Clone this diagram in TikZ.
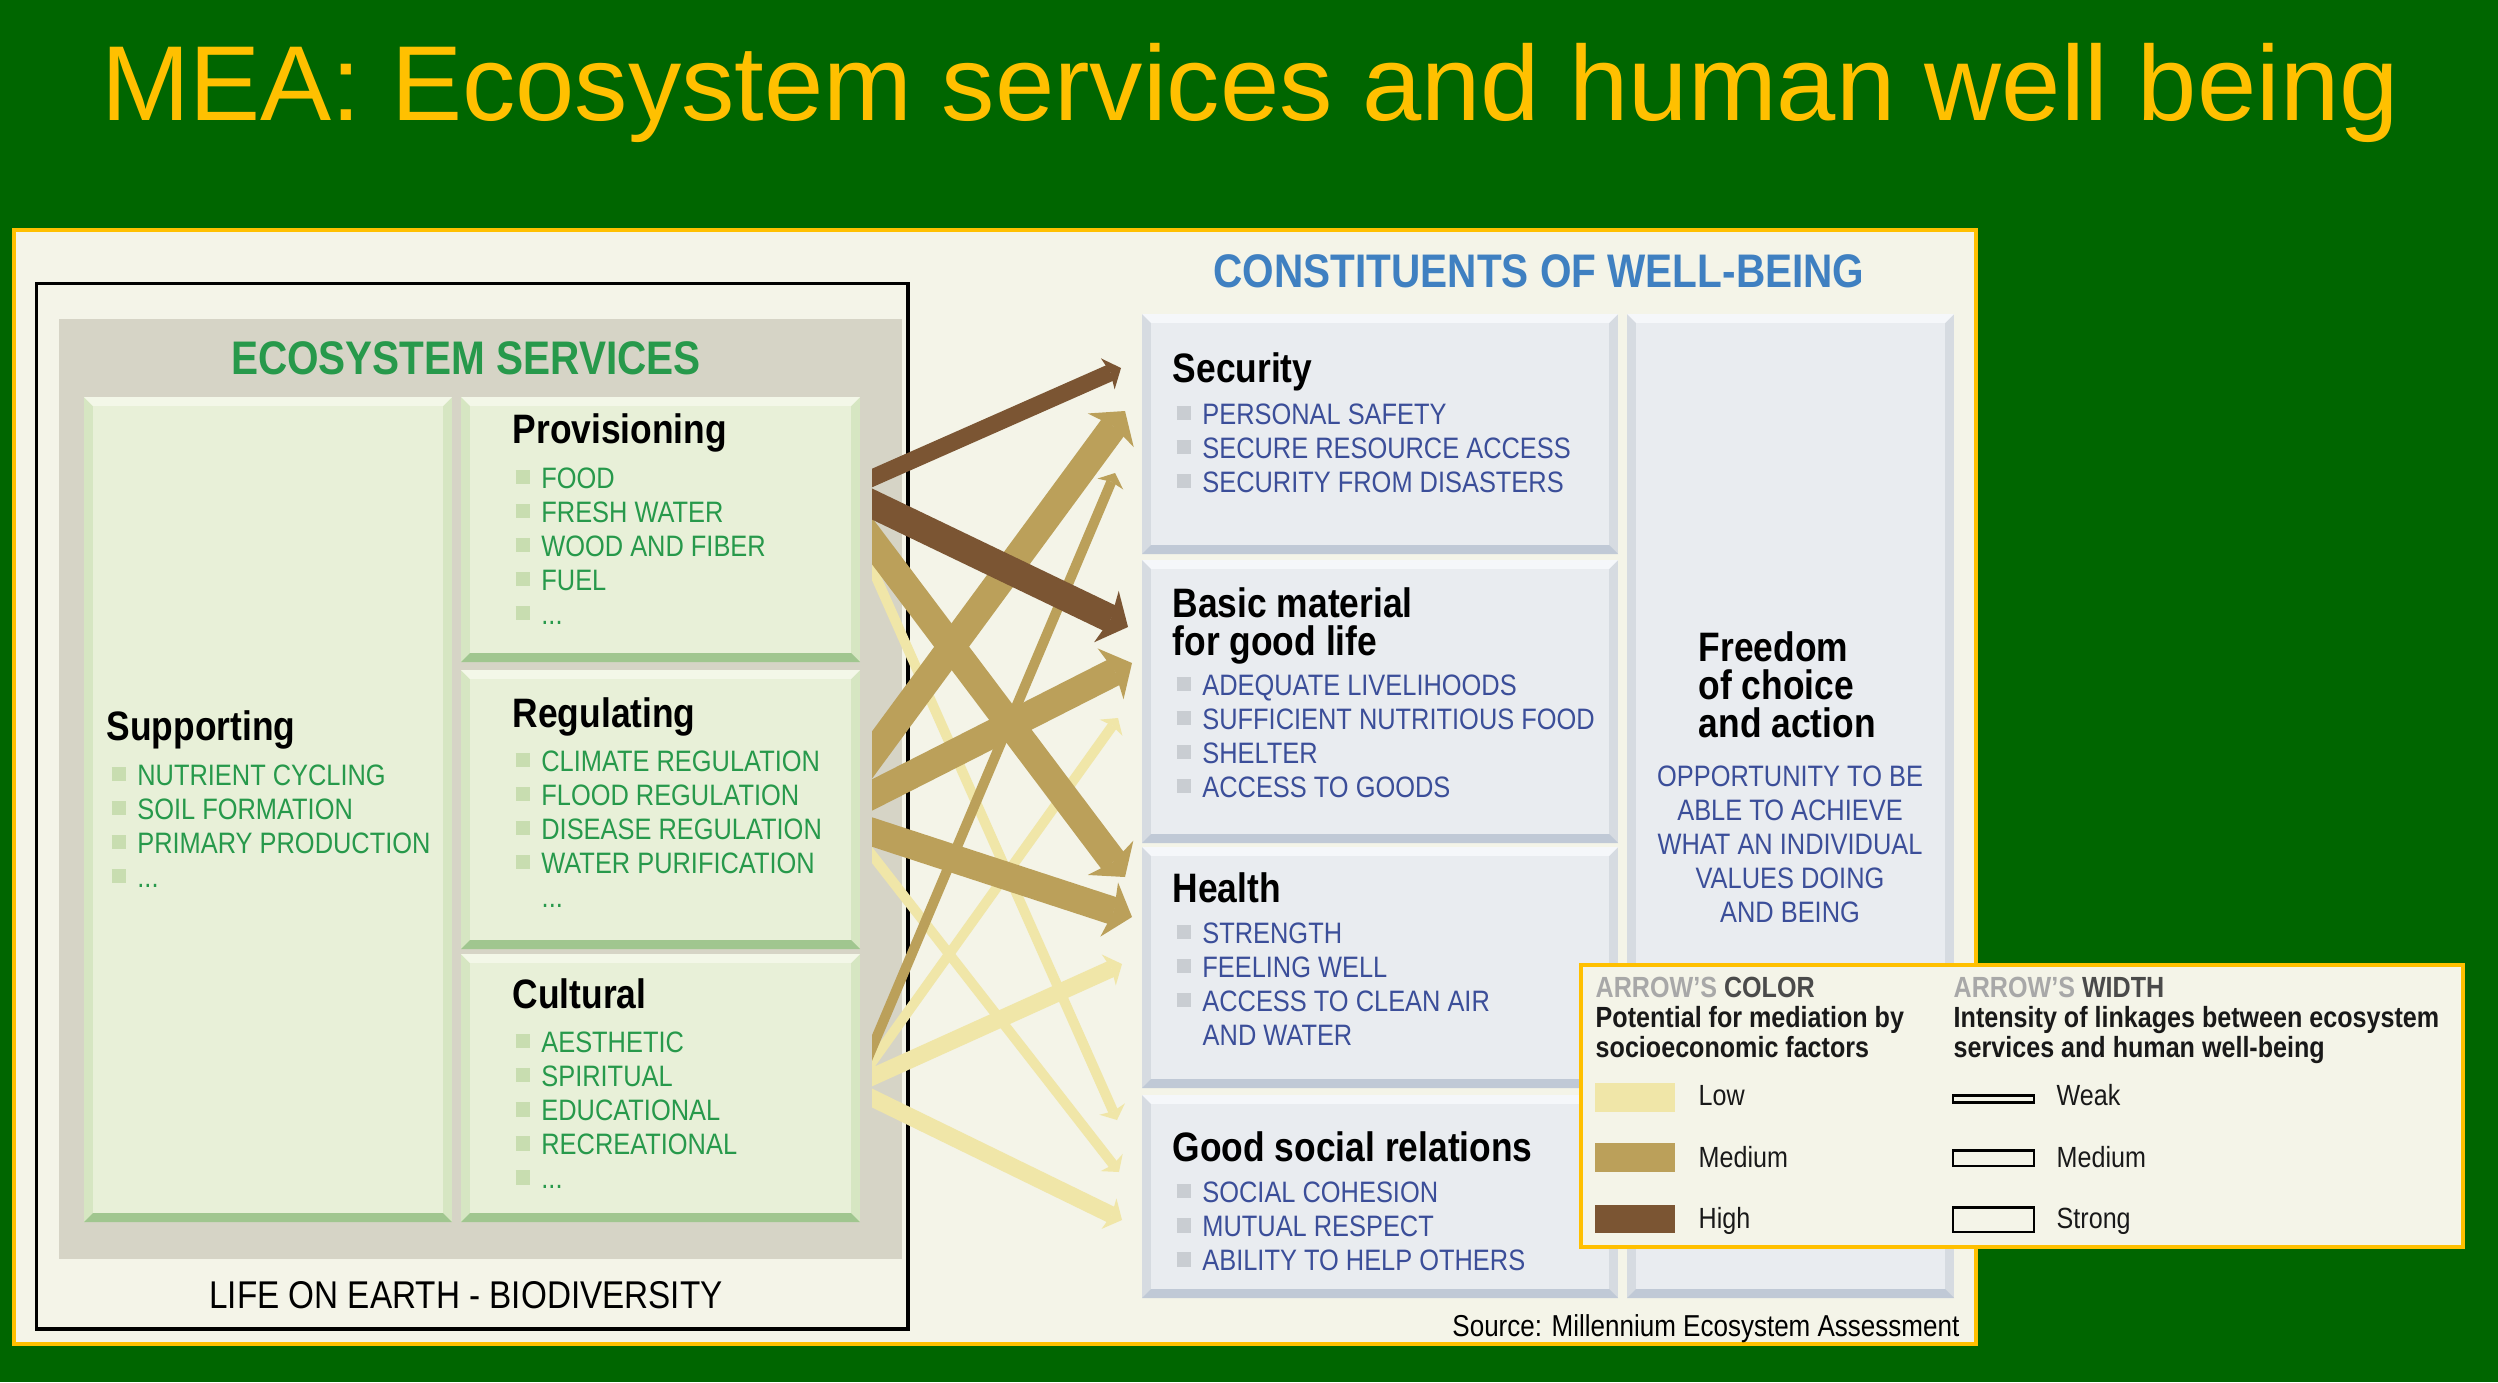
\documentclass[tikz,border=0pt]{standalone}
\usepackage{fontspec}
\setmainfont{Liberation Sans}
\newfontfamily\narrowsf{Liberation Sans}[FakeStretch=0.86]
\usetikzlibrary{arrows.meta}

\definecolor{bggreen}{HTML}{006600}
\definecolor{gold}{HTML}{FFC000}
\definecolor{cream}{HTML}{F4F4E8}
\definecolor{esgray}{HTML}{D6D4C6}
\definecolor{gface}{HTML}{E8F0D8}
\definecolor{gtop}{HTML}{F3F7E8}
\definecolor{gbot}{HTML}{A0C68F}
\definecolor{gside}{HTML}{D6E6C2}
\definecolor{bface}{HTML}{E9ECF0}
\definecolor{btop}{HTML}{F5F7FA}
\definecolor{bbot}{HTML}{C0C9D6}
\definecolor{bside}{HTML}{D6DBE1}
\definecolor{grn}{HTML}{27994B}
\definecolor{blu}{HTML}{3B4E99}
\definecolor{cblue}{HTML}{3F80C1}
\definecolor{gbul}{HTML}{C8DDB0}
\definecolor{bbul}{HTML}{C9CDD2}
\definecolor{clow}{HTML}{F0E6A8}
\definecolor{cmed}{HTML}{BBA05A}
\definecolor{chigh}{HTML}{7B5533}
\definecolor{lgray}{HTML}{A8A8A8}
\definecolor{dgray}{HTML}{4A4A4A}

\newcommand\sqg{\textcolor{gbul}{\rule[1pt]{4.2pt}{4.1pt}}\hspace{3.1pt}}
\newcommand\sqb{\textcolor{bbul}{\rule[1pt]{4.2pt}{4.1pt}}\hspace{3.1pt}}
\newcommand\etc{...}

\begin{document}
\begin{tikzpicture}[x=0.01cm, y=-0.01cm,
	hdr/.style={font=\narrowsf\bfseries\fontsize{13.4}{16}\selectfont, inner sep=0pt, anchor=base},
	ttl/.style={font=\narrowsf\bfseries\fontsize{11.7}{14}\selectfont, inner sep=0pt, anchor=base west},
	gitem/.style={font=\narrowsf\fontsize{8.4}{10}\selectfont, text=grn, inner sep=0pt, anchor=base west},
	bitem/.style={font=\narrowsf\fontsize{8.4}{10}\selectfont, text=blu, inner sep=0pt, anchor=base west},
	lgd/.style={font=\narrowsf\bfseries\fontsize{8.3}{10}\selectfont, text=black!90, inner sep=0pt, anchor=base west},
	lgn/.style={font=\narrowsf\fontsize{8.3}{10}\selectfont, text=black!90, inner sep=0pt, anchor=base west},
	lweak/.style={line width=1mm, -{Stealth[length=1.2mm, width=2.8mm, inset=0.25mm, line width=0pt]}, shorten <=-2mm},
	lmed/.style={line width=1.7mm, -{Stealth[length=1.45mm, width=3.4mm, inset=0.3mm, line width=0pt]}, shorten <=-2mm},
	lstrong/.style={line width=2.8mm, -{Stealth[length=2.4mm, width=5.7mm, inset=0.5mm, line width=0pt]}, shorten <=-2mm}]

	% beveled panel: x1 y1 x2 y2 colour set
	\def\panel#1#2#3#4#5{%
		\fill[#5side] (#1,#2) rectangle (#3,#4);
		\fill[#5top] (#1,#2) -- (#3,#2) -- (#3-9,#2+9) -- (#1+9,#2+9) -- cycle;
		\fill[#5bot] (#1,#4) -- (#3,#4) -- (#3-9,#4-9) -- (#1+9,#4-9) -- cycle;
		\fill[#5face] (#1+9,#2+9) rectangle (#3-9,#4-9);
	}

	% background
	\fill[bggreen] (0,0) rectangle (2498,1382);
	\useasboundingbox (0,0) rectangle (2498,1382);

	\node[font=\fontsize{30.3}{36}\selectfont, text=gold, inner sep=0pt, anchor=base]
	(title) at (1250,121) {MEA: Ecosystem services and human well being};

	% main panel
	\filldraw[fill=cream, draw=gold, line width=0.4mm] (14,230) rectangle (1976,1344);

	% life on earth
	\draw[line width=0.35mm] (36.5,283.5) rectangle (908,1329);
	\fill[esgray] (59,319) rectangle (902,1259);
	\node[font=\narrowsf\fontsize{11}{13}\selectfont, inner sep=0pt, anchor=base]
	(life) at (466,1308) {LIFE ON EARTH - BIODIVERSITY};

	% ecosystem services
	\node[hdr, text=grn] (eshdr) at (466,374) {ECOSYSTEM SERVICES};
	\panel{84}{397}{452}{1222}{g}
	\panel{461}{397}{860}{662}{g}
	\panel{461}{670}{860}{949}{g}
	\panel{461}{954}{860}{1222}{g}

	\node[ttl] (prov) at (512,443) {Provisioning};
	\foreach \t [count=\i] in {FOOD, FRESH WATER, WOOD AND FIBER, FUEL, \etc}
		\node[gitem] (prov\i) at (515,{488+34*(\i-1)}) {\sqg\t};

	\node[ttl] (reg) at (512,727) {Regulating};
	\foreach \t [count=\i] in {CLIMATE REGULATION, FLOOD REGULATION, DISEASE REGULATION, WATER PURIFICATION}
		\node[gitem] (reg\i) at (515,{771+34*(\i-1)}) {\sqg\t};
	\node[gitem] (reg5) at (541,907) {\etc};

	\node[ttl] (supp) at (106,740) {Supporting};
	\foreach \t [count=\i] in {NUTRIENT CYCLING, SOIL FORMATION, PRIMARY PRODUCTION, \etc}
		\node[gitem] (supp\i) at (111,{785+34*(\i-1)}) {\sqg\t};

	\node[ttl] (cult) at (512,1008) {Cultural};
	\foreach \t [count=\i] in {AESTHETIC, SPIRITUAL, EDUCATIONAL, RECREATIONAL, \etc}
		\node[gitem] (cult\i) at (515,{1052+34*(\i-1)}) {\sqg\t};

	% constituents of well-being
	\node[hdr, text=cblue] (cwhdr) at (1539,287) {CONSTITUENTS OF WELL-BEING};
	\panel{1142}{314}{1618}{554}{b}
	\panel{1142}{560}{1618}{843}{b}
	\panel{1142}{847}{1618}{1088}{b}
	\panel{1142}{1095}{1618}{1298}{b}
	\panel{1627}{314}{1954}{1298}{b}

	\node[ttl] (sec) at (1172,382) {Security};
	\foreach \t [count=\i] in {PERSONAL SAFETY, SECURE RESOURCE ACCESS, SECURITY FROM DISASTERS}
		\node[bitem] (sec\i) at (1176,{424+34*(\i-1)}) {\sqb\t};

	\node[ttl] (basic) at (1172,617) {Basic material};
	\node[ttl] (basicb) at (1172,655) {for good life};
	\foreach \t [count=\i] in {ADEQUATE LIVELIHOODS, SUFFICIENT NUTRITIOUS FOOD, SHELTER, ACCESS TO GOODS}
		\node[bitem] (basic\i) at (1176,{695+34*(\i-1)}) {\sqb\t};

	\node[ttl] (health) at (1172,902) {Health};
	\foreach \t [count=\i] in {STRENGTH, FEELING WELL, ACCESS TO CLEAN AIR}
		\node[bitem] (health\i) at (1176,{943+34*(\i-1)}) {\sqb\t};
	\node[bitem] (health4) at (1202,1045) {AND WATER};

	\node[ttl] (social) at (1172,1161) {Good social relations};
	\foreach \t [count=\i] in {SOCIAL COHESION, MUTUAL RESPECT, ABILITY TO HELP OTHERS}
		\node[bitem] (social\i) at (1176,{1202+34*(\i-1)}) {\sqb\t};

	\node[ttl] (free) at (1698,661) {Freedom};
	\node[ttl] (freeb) at (1698,699) {of choice};
	\node[ttl] (freec) at (1698,737) {and action};
	\foreach \t [count=\i] in {OPPORTUNITY TO BE, ABLE TO ACHIEVE, WHAT AN INDIVIDUAL, VALUES DOING, AND BEING}
		\node[bitem, anchor=base] (opp\i) at (1790,{786+34*(\i-1)}) {\t};

	\node[font=\narrowsf\fontsize{8.6}{10}\selectfont, inner sep=0pt, anchor=base east]
	(src) at (1960,1336) {Source: Millennium Ecosystem Assessment};

	% linkages, low first, high last
	\begin{scope}
		\clip (872,300) rectangle (1300,1300);
		\foreach \sy/\tx/\ty/\st/\cl [count=\i] in {
			568/1117/1120/lweak/clow, 855/1119/1172/lweak/clow,
			1062/1118/718/lweak/clow, 1077/1122/964/lmed/clow,
			1098/1122/1220/lmed/clow,
			541/1125/877/lstrong/cmed, 755/1125/411/lstrong/cmed,
			795/1132/663/lstrong/cmed, 832/1132/917/lstrong/cmed,
			1048/1115/473/lweak/cmed,
			478/1121/368/lmed/chigh, 504/1128/627/lstrong/chigh}
		{
			\coordinate (src\i) at (872,\sy);
			\coordinate (tip\i) at (\tx,\ty);
			\draw[\st, \cl] (src\i) -- (tip\i);
		}
	\end{scope}

	% legend
	\filldraw[fill=cream, draw=gold, line width=0.4mm] (1581,965) rectangle (2463,1247);
	\node[lgd] (lcol) at (1595,997) {\textcolor{lgray}{ARROW’S} \textcolor{dgray}{COLOR}};
	\node[lgd] (lcola) at (1595,1027) {Potential for mediation by};
	\node[lgd] (lcolb) at (1595,1057) {socioeconomic factors};
	\fill[clow] (1595,1083) rectangle (1675,1112);
	\fill[cmed] (1595,1143) rectangle (1675,1172);
	\fill[chigh] (1595,1205) rectangle (1675,1233);
	\node[lgn] (llow) at (1698,1105) {Low};
	\node[lgn] (lmid) at (1698,1167) {Medium};
	\node[lgn] (lhigh) at (1698,1228) {High};

	\node[lgd] (lwid) at (1953,997) {\textcolor{lgray}{ARROW’S} \textcolor{dgray}{WIDTH}};
	\node[lgd] (lwida) at (1953,1027) {Intensity of linkages between ecosystem};
	\node[lgd] (lwidb) at (1953,1057) {services and human well-being};
	\draw[line width=0.25mm, fill=cream] (1953,1095.5) rectangle (2034,1102.5);
	\draw[line width=0.25mm, fill=cream] (1953,1150.5) rectangle (2034,1166);
	\draw[line width=0.25mm, fill=cream] (1953,1207.5) rectangle (2034,1232);
	\node[lgn] (lweak) at (2056,1105) {Weak};
	\node[lgn] (lmedw) at (2056,1167) {Medium};
	\node[lgn] (lstrong) at (2056,1228) {Strong};

\end{tikzpicture}
\end{document}
